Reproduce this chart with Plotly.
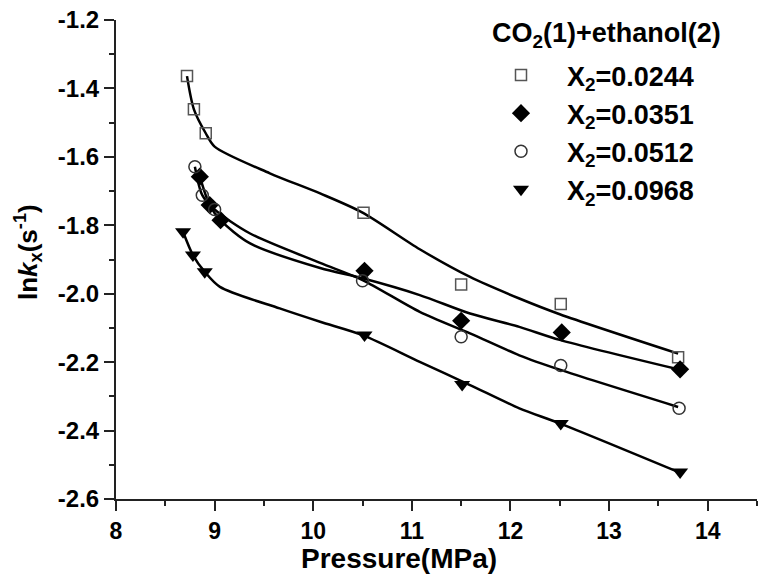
import plotly.graph_objects as go

# measured points, ln k_x vs pressure (MPa)
p_0244 = [8.72, 8.79, 8.91, 10.51, 11.50, 12.51, 13.70]
k_0244 = [-1.364, -1.461, -1.531, -1.763, -1.973, -2.030, -2.186]

p_0351 = [8.85, 8.95, 9.06, 10.52, 11.50, 12.52, 13.72]
k_0351 = [-1.658, -1.741, -1.785, -1.933, -2.079, -2.113, -2.221]

p_0512 = [8.80, 8.875, 9.00, 10.50, 11.50, 12.51, 13.71]
k_0512 = [-1.629, -1.712, -1.754, -1.962, -2.126, -2.210, -2.335]

p_0968 = [8.68, 8.78, 8.90, 10.52, 11.51, 12.51, 13.72]
k_0968 = [-1.819, -1.887, -1.936, -2.121, -2.265, -2.379, -2.521]

# fitted curves
fit_p_0244 = [8.72, 8.79, 8.91, 9.0, 9.56, 10.07, 10.5, 11.08, 11.59, 12.09, 12.5, 13.7]
fit_k_0244 = [-1.364, -1.461, -1.531, -1.570, -1.648, -1.707, -1.763, -1.870, -1.951, -2.014, -2.060, -2.175]

fit_p_0351 = [8.85, 8.95, 9.06, 9.36, 10.07, 10.5, 11.08, 11.59, 12.09, 12.5, 13.7]
fit_k_0351 = [-1.658, -1.741, -1.785, -1.853, -1.925, -1.955, -2.004, -2.058, -2.097, -2.135, -2.221]

fit_p_0512 = [8.80, 8.875, 9.0, 9.36, 10.07, 10.5, 11.08, 11.59, 12.09, 12.5, 13.7]
fit_k_0512 = [-1.629, -1.712, -1.754, -1.824, -1.910, -1.960, -2.053, -2.116, -2.180, -2.222, -2.331]

fit_p_0968 = [8.68, 8.78, 8.90, 9.054, 9.66, 10.07, 10.5, 11.08, 11.59, 12.09, 12.5, 13.7]
fit_k_0968 = [-1.819, -1.887, -1.936, -1.980, -2.043, -2.082, -2.121, -2.199, -2.267, -2.335, -2.379, -2.521]

names = ["X<sub>2</sub>=0.0244", "X<sub>2</sub>=0.0351", "X<sub>2</sub>=0.0512", "X<sub>2</sub>=0.0968"]

y_tickvals = [-2.6, -2.4, -2.2, -2.0, -1.8, -1.6, -1.4, -1.2]
y_ticktext = ["-2.6", "-2.4", "-2.2", "-2.0", "-1.8", "-1.6", "-1.4", "-1.2"]
x_tickvals = [8, 9, 10, 11, 12, 13, 14]

FONT = "Liberation Sans, Arial, sans-serif"

# plot area in pixels
L, R, T, B = 116, 757, 20, 499


def paper_x(px):
    return (px - L) / (R - L)


def paper_y(py):
    return (B - py) / (B - T)


series = [
    (p_0244, k_0244, fit_p_0244, fit_k_0244, dict(symbol="square-open", size=11, color="#555555", line_width=1.5)),
    (p_0351, k_0351, fit_p_0351, fit_k_0351, dict(symbol="diamond", size=14, color="black")),
    (p_0512, k_0512, fit_p_0512, fit_k_0512, dict(symbol="circle-open", size=12, color="#333333", line_width=1.5)),
    (p_0968, k_0968, fit_p_0968, fit_k_0968, dict(symbol="triangle-down", size=14, color="black")),
]

fig = go.Figure()
for px, ky, fx, fk, marker in series:
    fig.add_trace(
        go.Scatter(
            x=fx, y=fk, mode="lines",
            line=dict(color="black", width=2.5, shape="spline", smoothing=0.8),
            showlegend=False, hoverinfo="skip",
        )
    )
for (px, ky, fx, fk, marker), name in zip(series, names):
    fig.add_trace(
        go.Scatter(
            x=px, y=ky, mode="markers", name=name, marker=marker,
            legendgroup=name,
        )
    )

fig.update_layout(
    width=760,
    height=574,
    margin=dict(l=L, r=760 - R, t=T, b=574 - B),
    paper_bgcolor="white",
    plot_bgcolor="white",
    font=dict(family=FONT, size=24, color="black", weight="bold"),
    legend=dict(
        x=paper_x(475), y=paper_y(51),
        xanchor="left", yanchor="top",
        font=dict(size=27, weight="bold"),
        bgcolor="rgba(0,0,0,0)",
        itemwidth=82,
        tracegroupgap=0,
    ),
    annotations=[
        dict(
            text="CO<sub>2</sub>(1)+ethanol(2)", x=paper_x(606), y=paper_y(35),
            font=dict(size=27, weight="bold"),
        ),
        dict(
            text="Pressure(MPa)", x=paper_x(399), y=paper_y(558),
            font=dict(size=28, weight="bold"),
        ),
        dict(
            text="ln<i>k</i><sub>x</sub>(s<sup>-1</sup>)", x=paper_x(28), y=paper_y(252),
            textangle=-90, font=dict(size=26, weight="bold"),
        ),
    ],
)
fig.update_annotations(
    xref="paper", yref="paper", xanchor="center", yanchor="middle", showarrow=False
)

fig.update_xaxes(
    range=[8, 14.5],
    tickvals=x_tickvals,
    ticks="outside", ticklen=10, tickwidth=2, tickcolor="#222",
    minor=dict(dtick=0.5, ticks="outside", ticklen=5, tickwidth=2, tickcolor="#222"),
    showline=True, linecolor="#222", linewidth=2,
    showgrid=False, zeroline=False,
    tickfont=dict(size=23),
)
fig.update_yaxes(
    range=[-2.6, -1.2],
    tickvals=y_tickvals, ticktext=y_ticktext,
    ticks="outside", ticklen=10, tickwidth=2, tickcolor="#222",
    minor=dict(dtick=0.1, ticks="outside", ticklen=5, tickwidth=2, tickcolor="#222"),
    showline=True, linecolor="#222", linewidth=2,
    showgrid=False, zeroline=False,
    tickfont=dict(size=24),
)

fig.write_html(
    "out.html",
    config={"displayModeBar": False},
    post_script="document.body.style.margin='0';document.body.style.overflow='hidden';",
)
